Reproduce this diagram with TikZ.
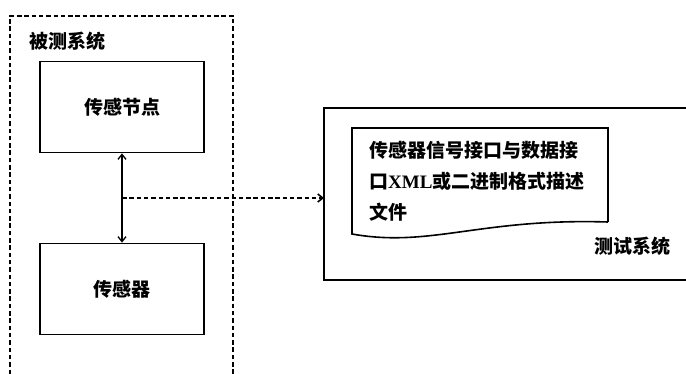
\documentclass[tikz,border=0pt]{standalone}
\usepackage{fontspec}
\setmainfont{Liberation Serif}
\newfontfamily\cjk{Noto Sans CJK SC}
\usetikzlibrary{arrows.meta}
\tikzset{
  blk/.style={draw, line width=1.7pt, minimum width=164pt, minimum height=91pt, inner sep=0pt},
  lbl/.style={font=\cjk\bfseries\fontsize{19}{31}\selectfont, inner sep=0pt},
  frame/.style={line width=1.4pt, dash pattern=on 4.5pt off 2.8pt},
  link/.style={line width=1.3pt, {Straight Barb[length=5pt,width=8pt]}-{Straight Barb[length=5pt,width=8pt]}},
  flow/.style={line width=1.6pt, dash pattern=on 4.5pt off 2.8pt, -{Straight Barb[length=5pt,width=8pt]}},
  solid line/.style={line width=1.6pt}
}
\begin{document}
\begin{tikzpicture}[x=1pt,y=-1pt]
\useasboundingbox[fill=white] (0,0) rectangle (686,374);
% system under test (dashed, open at bottom)
\draw[frame] (10,374) -- (10,16) -- (233,16) -- (233,374);
\node[lbl] (sut) at (68,41) {被测系统};
\node[blk, lbl] (snode) at (122,107) {传感节点};
\node[blk, lbl] (sensor) at (122,289) {传感器};
\draw[link] (snode.south) -- (sensor.north);
\coordinate (tap) at (122,198);
% test system (open to the right)
\node[inner sep=0pt, minimum width=362pt, minimum height=172pt, anchor=west] (test) at (324,194) {};
\draw[solid line] (test.north east) -- (test.north west) -- (test.south west) -- (test.south east);
\draw[flow] (tap) -- (tap -| test.west);
% document shape
\draw[solid line] (608,222) -- (608,128) -- (352,128) -- (352,234)
  .. controls (430,248) and (480,218) .. (608,222);
\node[lbl, align=left, anchor=west] (doc) at (369,181)
  {传感器信号接口与数据接\\口{\rmfamily\bfseries XML}或二进制格式描述\\文件};
\node[lbl] (tsys) at (632,246) {测试系统};
\end{tikzpicture}
\end{document}
